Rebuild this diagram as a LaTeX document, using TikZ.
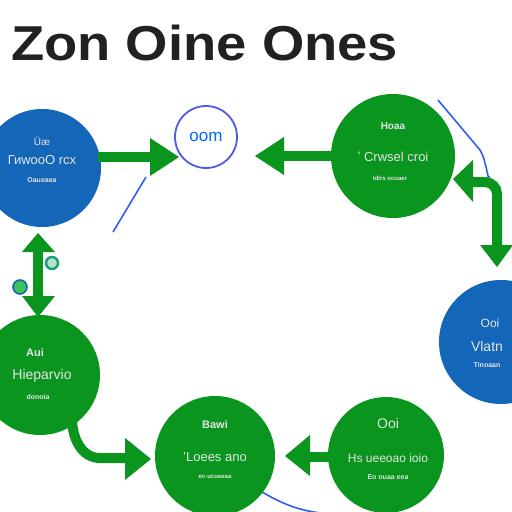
\documentclass[tikz,border=0pt]{standalone}
\usepackage{fontspec}
\setmainfont{Liberation Sans}
\usetikzlibrary{arrows.meta}
\definecolor{cblue}{HTML}{1467B8}
\definecolor{cgreen}{HTML}{0A961E}
\definecolor{ctext}{HTML}{E4E4E4}
\definecolor{lblue}{HTML}{2F5FF0}
\definecolor{oring}{HTML}{4F5BE8}
\definecolor{dotgreen}{HTML}{3CC45A}
\definecolor{dotteal}{HTML}{17A070}
\definecolor{dotfill}{HTML}{B5E2C8}
\tikzset{
  bluedisc/.style={circle, fill=cblue, inner sep=0pt},
  greendisc/.style={circle, fill=cgreen, inner sep=0pt},
  lab/.style={text=ctext, inner sep=0pt, anchor=center},
  garrow/.style={draw=cgreen, line width=10pt},
  ghead/.style={fill=cgreen, draw=none},
  thinblue/.style={draw=lblue, line width=1.6pt}
}
\begin{document}
\begin{tikzpicture}[x=1pt,y=-1pt]
\useasboundingbox (0,0) rectangle (512,512);
\fill[white] (0,0) rectangle (512,512);
\begin{scope}
\clip (0,0) rectangle (512,512);
% title
\node[anchor=base west, inner sep=0pt, text=black!87, xscale=1.11, font=\fontsize{49}{49}\selectfont\bfseries] (title) at (11,60) {Zon Oine Ones};

% thin blue lines
\coordinate (b1) at (146,177); \coordinate (b2) at (113,232);
\draw[thinblue] (b1) -- (b2);
\coordinate (b3) at (438,100); \coordinate (b4) at (489,176);
\draw[thinblue] (b3) -- (480,150) to[out=-55,in=-90] (b4);
\coordinate (b5) at (262,492); \coordinate (b6) at (330,514);
\draw[thinblue] (b5) to[out=-30,in=175] (b6);

% circles
\node[bluedisc, minimum size=118pt] (c1) at (42,168) {};
\node[circle, draw=oring, line width=1.8pt, fill=white, minimum size=62pt, inner sep=0pt] (c2) at (206,137) {};
\node[greendisc, minimum size=124pt] (c3) at (393,156) {};
\node[bluedisc, minimum size=124pt] (c4) at (501,342) {};
\node[greendisc, minimum size=120pt] (c5) at (40,375) {};
\node[greendisc, minimum size=120pt] (c6) at (215,456) {};
\node[greendisc, minimum size=116pt] (c7) at (386,455) {};

% labels
\node[lab, font=\fontsize{10}{10}\selectfont] (t1a) at (42,141) {Üæ};
\node[lab, font=\fontsize{13}{13}\selectfont] (t1b) at (42,160) {ГиwooO rcx};
\node[lab, font=\fontsize{7}{7}\selectfont\bfseries] (t1c) at (42,180) {Oaueaea};
\node[lab, text=blue!60!cyan, font=\fontsize{17}{17}\selectfont] (t2) at (206,137) {oom};
\node[lab, font=\fontsize{10}{10}\selectfont\bfseries] (t3a) at (393,126) {Hoaa};
\node[lab, font=\fontsize{13}{13}\selectfont] (t3b) at (393,157) {ʼ Crwsel croi};
\node[lab, font=\fontsize{6}{6}\selectfont\bfseries] (t3c) at (390,178) {tdlrs ocuaer};
\node[lab, font=\fontsize{12}{12}\selectfont] (t4a) at (490,323) {Ooi};
\node[lab, font=\fontsize{14}{14}\selectfont] (t4b) at (487,346) {Vlatn};
\node[lab, font=\fontsize{7}{7}\selectfont\bfseries] (t4c) at (487,365) {Tinoaan};
\node[lab, font=\fontsize{11}{11}\selectfont\bfseries] (t5a) at (35,353) {Aui};
\node[lab, font=\fontsize{14}{14}\selectfont] (t5b) at (42,376) {Hieparvio};
\node[lab, font=\fontsize{7}{7}\selectfont\bfseries] (t5c) at (38,397) {donoia};
\node[lab, font=\fontsize{11}{11}\selectfont\bfseries] (t6a) at (215,425) {Bawi};
\node[lab, font=\fontsize{13}{13}\selectfont] (t6b) at (215,457) {'Loees ano};
\node[lab, font=\fontsize{6}{6}\selectfont\bfseries] (t6c) at (215,477) {ec-ucuaeaa};
\node[lab, font=\fontsize{14}{14}\selectfont] (t7a) at (388,423) {Ooi};
\node[lab, font=\fontsize{12}{12}\selectfont] (t7b) at (388,458) {Hs ueeoao ioio};
\node[lab, font=\fontsize{7}{7}\selectfont\bfseries] (t7c) at (388,477) {Eo ouaa eea};

% arrow c1 -> c2
\coordinate (a1s) at (98,157); \coordinate (a1e) at (152,157);
\draw[garrow] (a1s) -- (a1e);
\fill[ghead] (150,138) -- (179,157) -- (150,176) -- cycle;
% arrow c3 -> c2
\coordinate (a2s) at (332,156); \coordinate (a2e) at (282,156);
\draw[garrow] (a2s) -- (a2e);
\fill[ghead] (284,137) -- (255,156) -- (284,175) -- cycle;
% right arrow (c3 <- ... -> c4)
\coordinate (a3s) at (471,182); \coordinate (a3e) at (497,247);
\draw[garrow, rounded corners=12pt] (a3s) -- (497,182) -- (a3e);
\fill[ghead] (473,160) -- (453,179) -- (473,202) -- cycle;
\fill[ghead] (480,245) -- (497,267) -- (513,245) -- cycle;
% left double arrow c1 <-> c5
\coordinate (a4s) at (38,250); \coordinate (a4e) at (38,298);
\draw[garrow] (a4s) -- (a4e);
\fill[ghead] (22,252) -- (38,233) -- (55,252) -- cycle;
\fill[ghead] (22,296) -- (38,317) -- (55,296) -- cycle;
% small dots
\node[circle, draw=cblue, fill=dotgreen, line width=1.6pt, minimum size=14pt, inner sep=0pt] (d1) at (20,287) {};
\node[circle, draw=dotteal, fill=dotfill, line width=2.4pt, minimum size=12pt, inner sep=0pt] (d2) at (52,263) {};
% arrow c5 -> c6
\coordinate (a5s) at (72,418); \coordinate (a5e) at (128,458);
\draw[garrow] (a5s) to[out=-90,in=180] (100,458) -- (a5e);
\fill[ghead] (125,438) -- (151,459) -- (125,480) -- cycle;
% arrow c7 -> c6
\coordinate (a6s) at (330,457); \coordinate (a6e) at (308,457);
\draw[garrow] (a6s) -- (a6e);
\fill[ghead] (310,435) -- (285,456) -- (310,476) -- cycle;
\end{scope}
\end{tikzpicture}
\end{document}
